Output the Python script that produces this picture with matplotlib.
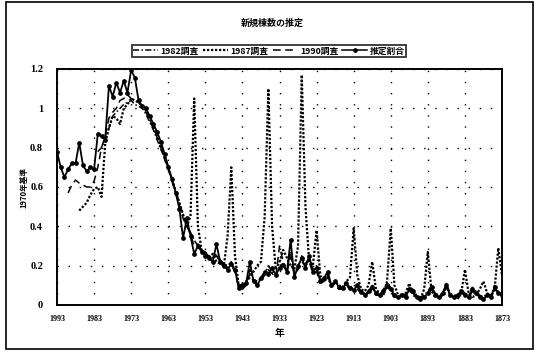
import matplotlib
matplotlib.use("Agg")
import matplotlib.pyplot as plt
from matplotlib.patches import Rectangle
from matplotlib.lines import Line2D

# ---------------- data (years run from newest to oldest) ----------------
start_est = 1993
est_ratio = [0.78, 0.70, 0.65, 0.69, 0.72, 0.72, 0.825, 0.71, 0.68, 0.70,
             0.69, 0.87, 0.86, 0.84, 1.115, 1.06, 1.13, 1.08, 1.14, 1.08,
             1.195, 1.155, 1.04, 1.01, 1.00, 0.96, 0.92, 0.88, 0.83, 0.77,
             0.70, 0.64, 0.57, 0.49, 0.34, 0.44, 0.35, 0.26, 0.30, 0.27,
             0.25, 0.24, 0.22, 0.31, 0.22, 0.20, 0.18, 0.21, 0.18, 0.085,
             0.10, 0.11, 0.22, 0.12, 0.10, 0.137, 0.17, 0.16, 0.187, 0.154,
             0.187, 0.204, 0.17, 0.33, 0.14, 0.20, 0.237, 0.19, 0.25, 0.17,
             0.19, 0.12, 0.137, 0.17, 0.10, 0.12, 0.093, 0.085, 0.11, 0.085,
             0.076, 0.10, 0.068, 0.051, 0.07, 0.09, 0.06, 0.05, 0.07, 0.10,
             0.08, 0.05, 0.04, 0.05, 0.04, 0.08, 0.07, 0.04, 0.03, 0.04,
             0.06, 0.09, 0.05, 0.04, 0.06, 0.10, 0.05, 0.04, 0.05, 0.07,
             0.05, 0.04, 0.08, 0.06, 0.04, 0.03, 0.05, 0.04, 0.09, 0.06,
             0.05]

start_1987 = 1987
survey_1987 = [0.48, 0.50, 0.52, 0.56, 0.59, 0.60, 0.55, 0.82, 0.90, 0.96,
               0.95, 0.92, 1.00, 1.02, 1.05, 1.04, 1.03, 1.01, 0.99, 0.95,
               0.90, 0.86, 0.81, 0.76, 0.70, 0.64, 0.58, 0.52, 0.46, 0.40,
               0.45, 1.05, 0.40, 0.28, 0.26, 0.24, 0.26, 0.22, 0.21, 0.20,
               0.35, 0.70, 0.25, 0.10, 0.10, 0.12, 0.14, 0.17, 0.20, 0.22,
               0.45, 1.10, 0.40, 0.18, 0.22, 0.28, 0.24, 0.20, 0.18, 0.30,
               1.17, 0.50, 0.22, 0.20, 0.38, 0.15, 0.12, 0.14, 0.10, 0.12,
               0.10, 0.09, 0.12, 0.14, 0.39, 0.15, 0.08, 0.07, 0.10, 0.22,
               0.08, 0.06, 0.05, 0.12, 0.39, 0.10, 0.05, 0.04, 0.06, 0.11,
               0.05, 0.04, 0.03, 0.08, 0.27, 0.07, 0.04, 0.04, 0.05, 0.10,
               0.05, 0.04, 0.03, 0.06, 0.18, 0.06, 0.04, 0.05, 0.08, 0.12,
               0.06, 0.04, 0.08, 0.29, 0.15]

start_1990 = 1990
survey_1990 = [0.57, 0.61, 0.635, 0.62, 0.61, 0.60, 0.60, 0.63, 0.70, 0.80,
               0.86, 0.95, 0.98, 1.00, 1.04, 1.05, 1.07, 1.05, 1.04, 1.03,
               1.01, 0.98, 0.94, 0.90, 0.85, 0.80, 0.74, 0.69, 0.63, 0.57,
               0.51, 0.44, 0.40, 0.36, 0.30, 0.31, 0.28, 0.26, 0.25, 0.24,
               0.25, 0.22, 0.21, 0.19, 0.20, 0.17, 0.09, 0.08, 0.10, 0.16,
               0.12, 0.11, 0.13, 0.15, 0.18, 0.16, 0.14, 0.30, 0.22, 0.16,
               0.25, 0.16, 0.18, 0.22, 0.20, 0.22, 0.16, 0.17, 0.11, 0.12,
               0.15, 0.09, 0.11, 0.08, 0.08, 0.10, 0.08, 0.09, 0.08, 0.06,
               0.05, 0.06, 0.08, 0.05, 0.05, 0.06, 0.09, 0.07, 0.04, 0.04,
               0.05, 0.04, 0.07, 0.06, 0.04, 0.03, 0.04, 0.05, 0.08, 0.05,
               0.04, 0.05, 0.09, 0.05, 0.04, 0.04, 0.06, 0.05, 0.04, 0.07,
               0.05, 0.04, 0.03, 0.05, 0.04, 0.08, 0.06, 0.05]

start_1982 = 1982
survey_1982 = [0.78, 0.80, 0.84, 0.90, 0.96, 0.98, 1.00, 1.02, 1.03, 1.04,
               1.02, 1.01, 1.00, 0.97, 0.93, 0.89, 0.84, 0.79, 0.75, 0.70,
               0.64, 0.58, 0.52, 0.46, 0.41, 0.37, 0.33, 0.30, 0.28, 0.27,
               0.25, 0.24, 0.26, 0.23, 0.21, 0.20, 0.22, 0.18, 0.10, 0.09,
               0.11, 0.18, 0.13, 0.12, 0.14, 0.16, 0.20, 0.17, 0.15, 0.20,
               0.21, 0.17, 0.27, 0.15, 0.19, 0.25, 0.21, 0.24, 0.18, 0.20,
               0.13, 0.13, 0.16, 0.10, 0.12, 0.09, 0.09, 0.11, 0.09, 0.10,
               0.09, 0.07, 0.06, 0.07, 0.10, 0.06, 0.05, 0.08, 0.11, 0.09,
               0.05, 0.04, 0.06, 0.05, 0.09, 0.08, 0.05, 0.04, 0.05, 0.07,
               0.10, 0.06, 0.05, 0.06, 0.11, 0.06, 0.05, 0.05, 0.08, 0.06,
               0.05, 0.09, 0.07, 0.05, 0.04, 0.06, 0.05, 0.10, 0.07, 0.06]

x_ticks = [1993, 1983, 1973, 1963, 1953, 1943, 1933, 1923, 1913, 1903, 1893, 1883, 1873]
y_ticks = [0, 0.2, 0.4, 0.6, 0.8, 1.0, 1.2]
y_tick_labels = ["0", "0.2", "0.4", "0.6", "0.8", "1", "1.2"]
labels = ["1982調査", "1987調査", "1990調査", "推定割合"]
title = "新規棟数の推定"
xlabel = "年"
ylabel = "1970年基準"


def years(start, vals):
    return [start - i for i in range(len(vals))]


JP = ["Noto Sans CJK JP", "DejaVu Sans"]
SERIF = "Liberation Serif"

fig = plt.figure(figsize=(5.38, 3.57), dpi=100)
fig.patch.set_facecolor("white")
ax = fig.add_axes([57 / 538, 1 - 305 / 357, (502 - 57) / 538, (305 - 69) / 357])

ls_1982 = (0, (4, 1.5, 1, 1.5))
ls_1987 = (0, (1, 0.8))
ls_1990 = (0, (5, 3))

ax.plot(years(start_1982, survey_1982), survey_1982, color="black", lw=1.1, ls=ls_1982)
ax.plot(years(start_1987, survey_1987), survey_1987, color="black", lw=1.6, ls=ls_1987)
ax.plot(years(start_1990, survey_1990), survey_1990, color="black", lw=1.1, ls=ls_1990)
ax.plot(years(start_est, est_ratio), est_ratio, color="black", lw=1.3, marker="o",
        markersize=2.4)

ax.set_xlim(1993, 1873)
ax.set_ylim(0, 1.2)
ax.set_xticks(x_ticks)
ax.set_xticklabels([str(v) for v in x_ticks], fontfamily=SERIF, fontweight="bold", fontsize=5.8)
ax.set_yticks(y_ticks)
ax.set_yticklabels(y_tick_labels, fontfamily=SERIF, fontweight="bold", fontsize=7.5)
ax.tick_params(axis="both", length=0, pad=7)
ax.tick_params(axis="y", pad=10)

ax.grid(True, color="black", linestyle=(0, (1, 7)), linewidth=1.0)
for s in ax.spines.values():
    s.set_linewidth(1.4)
    s.set_color("black")

ax.set_xlabel(xlabel, fontfamily=JP, fontweight="bold", fontsize=7, labelpad=4)
fig.text(24 / 538, 0.476, ylabel, rotation=90, ha="center", va="center",
         fontfamily=JP, fontweight="bold", fontsize=5.5)
fig.text(0.507, 1 - 23 / 357, title, ha="center", va="center",
         fontfamily=JP, fontweight="bold", fontsize=6.5)

handles = [
    Line2D([], [], color="black", lw=1.1, ls=ls_1982),
    Line2D([], [], color="black", lw=1.6, ls=ls_1987),
    Line2D([], [], color="black", lw=1.1, ls=ls_1990),
    Line2D([], [], color="black", lw=1.1, marker="o", markersize=2.4),
]
leg = fig.legend(handles, labels, loc="center", bbox_to_anchor=(269 / 538, 1 - 51 / 357),
                 ncol=4, frameon=True, fancybox=False,
                 prop={"family": JP, "weight": "bold", "size": 6.3},
                 handlelength=2.8, handletextpad=0.3, columnspacing=0.5,
                 borderpad=0.15, borderaxespad=0)
leg.get_frame().set_edgecolor("black")
leg.get_frame().set_linewidth(1.3)

fig.patches.append(Rectangle((6 / 538, 1 - 349 / 357), 527 / 538, 347 / 357,
                             transform=fig.transFigure, fill=False,
                             edgecolor="black", linewidth=1.2))

fig.savefig("out.png", dpi=100)
